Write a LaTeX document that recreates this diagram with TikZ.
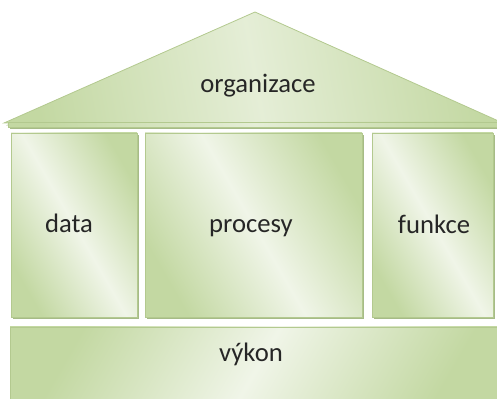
\documentclass[tikz,border=0pt]{standalone}
\usepackage{fontspec}
\setmainfont{Carlito}
\usetikzlibrary{shadows}

\definecolor{leafdark}{HTML}{C3D8A2}
\definecolor{leaflight}{HTML}{F0F5E8}
\definecolor{leafedge}{HTML}{B3C98F}
\definecolor{leafshade}{HTML}{A6BB87}

\tikzstyle{block} = [draw=leafedge, line width=0.6pt, left color=leafdark, right color=leafdark, middle color=leaflight, shading angle=120,
  drop shadow={shadow xshift=1.6pt, shadow yshift=-1.8pt, fill=leafshade, opacity=1}]
\tikzstyle{roof} = [block, middle color=leaflight!75!leafdark, shading angle=100]
\tikzstyle{word} = [font=\fontsize{20}{24}\selectfont, text=black!85, inner sep=0pt, anchor=base]

\begin{document}
\begin{tikzpicture}[x=0.75pt,y=-0.75pt]
	\useasboundingbox (0,0) rectangle (497,399);
	% roof
	\path[roof] (4,123) -- (255,12) -- (503,123) -- cycle;
	\path[roof] (8,122) rectangle (503,127);
	\node[word] (organizace) at (258,93) {organizace};
	% pillars
	\path[block] (11,133) rectangle (137,317);
	\path[block] (145,133) rectangle (362,317);
	\path[block] (372,133) rectangle (493,317);
	\node[word] (data) at (69,233) {data};
	\node[word] (procesy) at (251,233) {procesy};
	\node[word] (funkce) at (434,234) {funkce};
	% base
	\path[block, shading angle=60] (10,327) rectangle (503,410);
	\node[word] (vykon) at (251,362) {výkon};
\end{tikzpicture}
\end{document}
